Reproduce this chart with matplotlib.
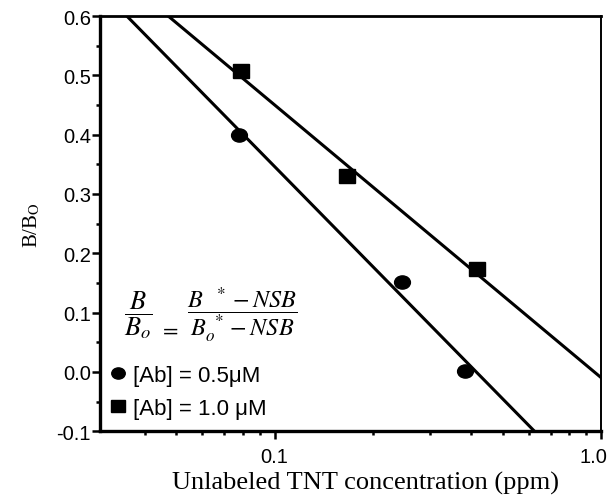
import numpy as np
import matplotlib
matplotlib.use("Agg")
import matplotlib.pyplot as plt
import matplotlib.transforms as mtransforms
from matplotlib.markers import MarkerStyle
from matplotlib.ticker import FixedLocator, MultipleLocator, NullFormatter

plt.rcParams['font.family'] = ['Liberation Sans', 'DejaVu Sans']
plt.rcParams['mathtext.fontset'] = 'stix'

# data
conc_05 = [0.078, 0.245, 0.383]      # ppm, [Ab] = 0.5 uM
bb0_05 = [0.400, 0.152, 0.002]
conc_10 = [0.079, 0.167, 0.417]      # ppm, [Ab] = 1.0 uM
bb0_10 = [0.507, 0.330, 0.173]

xticks = [0.1, 1.0]
xticklabels = ['0.1', '1.0']
yticks = [-0.1, 0.0, 0.1, 0.2, 0.3, 0.4, 0.5, 0.6]

fig = plt.figure(figsize=(6.14, 5.02), dpi=100)
ax = fig.add_axes([0.163, 0.139, 0.816, 0.827])

# straight fits in log(x)
xx = np.logspace(np.log10(0.02), np.log10(1.2), 200)
for cx, cy in [(conc_05, bb0_05), (conc_10, bb0_10)]:
    p = np.polyfit(np.log10(cx), cy, 1)
    ax.plot(xx, np.polyval(p, np.log10(xx)), color='black', lw=2.2, zorder=2)

# the scanned markers are a bit wider than tall
circ = MarkerStyle('o', transform=mtransforms.Affine2D().scale(1.2, 1.0))
sq = MarkerStyle('s', transform=mtransforms.Affine2D().scale(1.25, 1.0))
ax.plot(conc_05, bb0_05, marker=circ, color='black', ms=9.5, ls='none', zorder=3,
        label='[Ab] = 0.5\u03bcM')
ax.plot(conc_10, bb0_10, marker=sq, color='black', ms=9.5, ls='none', zorder=3,
        label='[Ab] = 1.0 \u03bcM')

ax.set_xscale('log')
ax.set_xlim(0.0292, 1.0)
ax.set_ylim(-0.1, 0.6)
ax.xaxis.set_major_locator(FixedLocator(xticks))
ax.set_xticklabels(xticklabels)
ax.xaxis.set_minor_locator(FixedLocator([0.04, 0.05, 0.06, 0.07, 0.08, 0.09,
                                         0.2, 0.3, 0.4, 0.5, 0.6, 0.7, 0.8, 0.9]))
ax.xaxis.set_minor_formatter(NullFormatter())
ax.set_yticks(yticks)
ax.set_yticklabels(['%.1f' % v for v in yticks])
ax.yaxis.set_minor_locator(MultipleLocator(0.05))

ax.tick_params(which='both', direction='out', labelsize=14.5, width=1.8,
               top=False, right=False)
ax.tick_params(which='major', length=5.5)
ax.tick_params(axis='y', which='major', pad=1)
ax.tick_params(axis='x', which='major', pad=6)
ax.tick_params(which='minor', length=3)
# "1.0" sits a little left of its tick in the original
lab = ax.get_xticklabels()[-1]
lab.set_transform(lab.get_transform() + mtransforms.ScaledTranslation(-8 / 100, 0, fig.dpi_scale_trans))

for s in ['left', 'bottom']:
    ax.spines[s].set_linewidth(2.4)
ax.spines['top'].set_linewidth(2.0)
ax.spines['right'].set_linewidth(1.4)

ax.set_xlabel('Unlabeled TNT concentration (ppm)', family=['Liberation Serif'],
              fontsize=19)
ax.xaxis.set_label_coords(0.53, -0.095)
ax.set_ylabel(r'B/B$_\mathrm{O}$', family=['Liberation Serif'], fontsize=15,
              labelpad=10)

# binding equation
ax.text(0.076, 0.282, r'$\dfrac{B}{B_o}$', transform=ax.transAxes,
        fontsize=19, ha='center', va='center')
ax.text(0.137, 0.246, r'$=$', transform=ax.transAxes,
        fontsize=16, ha='center', va='center')
ax.text(0.284, 0.282, r'$\dfrac{B\ \ ^*-NSB}{B_o^{\ *}-NSB}$', transform=ax.transAxes,
        fontsize=17.5, ha='center', va='center')

ax.legend(loc='lower left', bbox_to_anchor=(0.012, 0.03), frameon=False,
          fontsize=16, handletextpad=0.1, labelspacing=0.55, handlelength=1.1,
          markerscale=0.85, borderaxespad=0, borderpad=0)

fig.savefig('out.png', dpi=100)
